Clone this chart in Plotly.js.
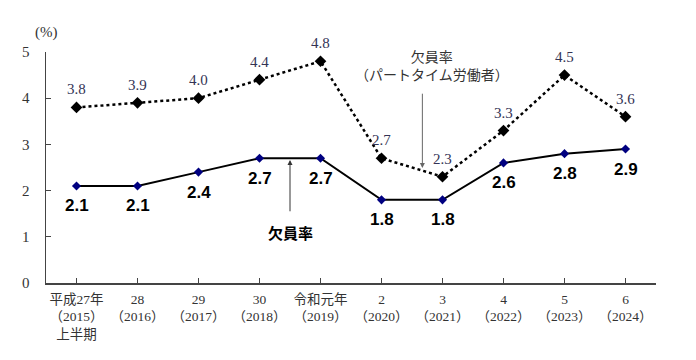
<!DOCTYPE html>
<html>
<head>
<meta charset="utf-8">
<script src="https://cdn.plot.ly/plotly-3.0.1.min.js"></script>
<style>html,body{margin:0;padding:0;background:#fff;}#chart{width:696px;height:360px;}</style>
</head>
<body>
<div id="chart"></div>
<script>
const categories = [
  "平成27年<br>（2015）<br>上半期", "28<br>（2016）", "29<br>（2017）", "30<br>（2018）", "令和元年<br>（2019）",
  "2<br>（2020）", "3<br>（2021）", "4<br>（2022）", "5<br>（2023）", "6<br>（2024）"
];
const vacancyRate = [2.1, 2.1, 2.4, 2.7, 2.7, 1.8, 1.8, 2.6, 2.8, 2.9];
const partTimeRate = [3.8, 3.9, 4.0, 4.4, 4.8, 2.7, 2.3, 3.3, 4.5, 3.6];
const vacancyLabels = ["2.1", "2.1", "2.4", "2.7", "2.7", "1.8", "1.8", "2.6", "2.8", "2.9"];
const partTimeLabels = ["3.8", "3.9", "4.0", "4.4", "4.8", "2.7", "2.3", "3.3", "4.5", "3.6"];
const yTicks = [0, 1, 2, 3, 4, 5];

const xIdx = categories.map((c, i) => i);

const traces = [
  {
    x: xIdx, y: partTimeRate, type: 'scatter', mode: 'lines+markers',
    name: '欠員率（パートタイム労働者）',
    line: {color: '#000', width: 2.5, dash: 'dot'},
    marker: {symbol: 'diamond', size: 9, color: '#000'},
    cliponaxis: false
  },
  {
    x: xIdx, y: vacancyRate, type: 'scatter', mode: 'lines+markers',
    name: '欠員率',
    line: {color: '#000', width: 2},
    marker: {symbol: 'diamond', size: 7, color: '#000080'},
    cliponaxis: false
  }
];

const labelAnns = [];
partTimeRate.forEach((v, i) => labelAnns.push({
  x: i, y: v, xref: 'x', yref: 'y', text: partTimeLabels[i], showarrow: false, yshift: 18,
  font: {family: 'Liberation Serif, DejaVu Serif, serif', size: 15, color: '#333355'}
}));
vacancyRate.forEach((v, i) => labelAnns.push({
  x: i, y: v, xref: 'x', yref: 'y', text: '<b>' + vacancyLabels[i] + '</b>', showarrow: false, yshift: -20,
  font: {family: 'Liberation Sans Narrow, Arial Narrow, Liberation Sans, sans-serif', size: 17, color: '#000'}
}));

const layout = {
  width: 696, height: 360,
  margin: {l: 46, r: 40, t: 52, b: 77},
  paper_bgcolor: '#fff', plot_bgcolor: '#fff',
  showlegend: false,
  font: {family: 'Liberation Serif, serif', color: '#333'},
  xaxis: {
    range: [-0.5, 9.5], tickmode: 'array', tickvals: xIdx, ticktext: categories,
    ticks: 'inside', ticklen: 5, tickcolor: '#444', tickwidth: 1,
    showline: true, linecolor: '#444', linewidth: 1.5,
    showgrid: false, zeroline: false, fixedrange: true,
    tickfont: {family: 'Liberation Serif, Noto Sans CJK JP, serif', size: 13.5, color: '#333'},
    ticklabelstandoff: 3
  },
  yaxis: {
    range: [0, 5], tickmode: 'array', tickvals: yTicks,
    ticks: 'inside', ticklen: 5, tickcolor: '#444', tickwidth: 1,
    showline: true, linecolor: '#444', linewidth: 1.5,
    showgrid: false, zeroline: false, fixedrange: true,
    tickfont: {family: 'Liberation Serif, serif', size: 15, color: '#333'},
    ticklabelstandoff: 12
  },
  annotations: labelAnns.concat([
    {xref: 'paper', yref: 'paper', x: 0.0, y: 1.04, xanchor: 'center', yanchor: 'bottom',
     text: '(%)', showarrow: false, font: {family: 'Liberation Serif, serif', size: 15, color: '#333'}},
    {x: 3.5, y: 1.1, xref: 'x', yref: 'y', text: '<b>欠員率</b>', showarrow: false,
     font: {family: 'Noto Sans CJK JP, sans-serif', size: 15, color: '#000'}},
    {x: 3.5, y: 2.66, ax: 3.5, ay: 1.52, xref: 'x', yref: 'y', axref: 'x', ayref: 'y',
     text: '', showarrow: true, arrowhead: 2, arrowsize: 1, arrowwidth: 1, arrowcolor: '#333'},
    {x: 5.82, y: 4.72, xref: 'x', yref: 'y', text: '欠員率<br>（パートタイム労働者）', showarrow: false,
     font: {family: 'Noto Sans CJK JP, sans-serif', size: 14, color: '#333'}},
    {x: 5.67, y: 2.49, ax: 5.67, ay: 4.13, xref: 'x', yref: 'y', axref: 'x', ayref: 'y',
     text: '', showarrow: true, arrowhead: 2, arrowsize: 1, arrowwidth: 1, arrowcolor: '#666'}
  ])
};

Plotly.newPlot('chart', traces, layout, {displayModeBar: false, staticPlot: true});
</script>
</body>
</html>
